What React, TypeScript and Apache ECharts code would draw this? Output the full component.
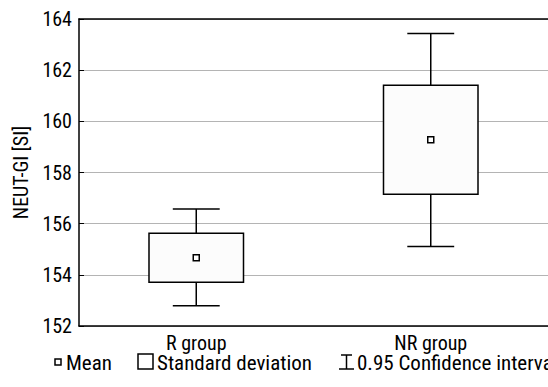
import React, { useEffect, useRef } from "react";
import * as echarts from "echarts";

const categories = ["R group", "NR group"];
const means = [154.67, 159.28];
const sdLow = [153.71, 157.15];
const sdHigh = [155.63, 161.41];
const ciLow = [152.79, 155.11];
const ciHigh = [156.57, 163.43];
const yTicks = { min: 152, max: 164, interval: 2 };
const legendLabels = ["Mean", "Standard deviation", "0.95 Confidence interval"];

const FONT = '"Roboto Condensed", "Liberation Sans Narrow", sans-serif';

export default function App() {
  const ref = useRef<HTMLDivElement>(null);
  useEffect(() => {
    document.body.style.margin = "0";
    const chart = echarts.init(ref.current!, null, { renderer: "svg" });
    const data = categories.map((c, i) => [i, ciLow[i], sdLow[i], means[i], sdHigh[i], ciHigh[i]]);
    const option: any = {
      animation: false,
      backgroundColor: "#ffffff",
      textStyle: { fontFamily: FONT },
      grid: { left: 79, top: 19, right: -7, bottom: 61, containLabel: false },
      xAxis: [
        {
          type: "category",
          data: categories,
          position: "bottom",
          axisLine: { lineStyle: { color: "#000", width: 1.5 } },
          axisTick: { inside: true, alignWithLabel: true, length: 5, lineStyle: { color: "#000" } },
          axisLabel: { color: "#000", fontSize: 20, lineHeight: 17, fontFamily: FONT, margin: 8 },
          splitLine: { show: false },
        },
        {
          type: "category",
          data: categories,
          position: "top",
          axisLine: { lineStyle: { color: "#000", width: 1.5 } },
          axisTick: { inside: true, alignWithLabel: true, length: 5, lineStyle: { color: "#000" } },
          axisLabel: { show: false },
          splitLine: { show: false },
        },
      ],
      yAxis: {
        type: "value",
        min: yTicks.min,
        max: yTicks.max,
        interval: yTicks.interval,
        name: "NEUT-GI [SI]",
        nameLocation: "middle",
        nameGap: 44,
        nameTextStyle: { color: "#000", fontSize: 20, fontFamily: FONT },
        axisLine: { show: true, lineStyle: { color: "#000", width: 1.5 } },
        axisTick: { show: true, inside: true, length: 5, lineStyle: { color: "#000" } },
        axisLabel: { color: "#000", fontSize: 20, fontFamily: FONT, margin: 7 },
        splitLine: { show: true, lineStyle: { color: "#b4b4b4", width: 1 } },
      },
      series: [
        {
          type: "custom",
          data,
          renderItem: (params: any, api: any) => {
            const xi = api.value(0);
            const band = api.size([1, 0])[0];
            const pLoCI = api.coord([xi, api.value(1)]);
            const pLoSD = api.coord([xi, api.value(2)]);
            const pMean = api.coord([xi, api.value(3)]);
            const pHiSD = api.coord([xi, api.value(4)]);
            const pHiCI = api.coord([xi, api.value(5)]);
            const cx = pMean[0];
            const boxW = band * 0.403;
            const capW = band * 0.2;
            const ls = { stroke: "#000", lineWidth: 1.5, fill: null };
            return {
              type: "group",
              children: [
                { type: "line", shape: { x1: cx, y1: pHiCI[1], x2: cx, y2: pLoCI[1] }, style: ls },
                { type: "line", shape: { x1: cx - capW / 2, y1: pHiCI[1], x2: cx + capW / 2, y2: pHiCI[1] }, style: ls },
                { type: "line", shape: { x1: cx - capW / 2, y1: pLoCI[1], x2: cx + capW / 2, y2: pLoCI[1] }, style: ls },
                {
                  type: "rect",
                  shape: { x: cx - boxW / 2, y: pHiSD[1], width: boxW, height: pLoSD[1] - pHiSD[1] },
                  style: { stroke: "#000", lineWidth: 1.5, fill: "#fcfcfc" },
                },
                {
                  type: "rect",
                  shape: { x: cx - 3, y: pMean[1] - 3, width: 6, height: 6 },
                  style: { stroke: "#000", lineWidth: 1.5, fill: "#fff" },
                },
              ],
            };
          },
        },
      ],
      graphic: [
        { type: "rect", shape: { x: 55, y: 359, width: 6, height: 6 }, style: { stroke: "#000", lineWidth: 1.5, fill: "#fff" } },
        { type: "text", x: 66, y: 363, style: { text: legendLabels[0], fontSize: 21, lineHeight: 17, fontFamily: FONT, fill: "#000", verticalAlign: "middle" } },
        { type: "rect", shape: { x: 138, y: 354, width: 15, height: 15 }, style: { stroke: "#000", lineWidth: 1.5, fill: "#fff" } },
        { type: "text", x: 157, y: 363, style: { text: legendLabels[1], fontSize: 21, lineHeight: 17, fontFamily: FONT, fill: "#000", verticalAlign: "middle" } },
        { type: "line", shape: { x1: 341, y1: 355, x2: 352, y2: 355 }, style: { stroke: "#000", lineWidth: 1.5 } },
        { type: "line", shape: { x1: 346.5, y1: 355, x2: 346.5, y2: 369 }, style: { stroke: "#000", lineWidth: 1.5 } },
        { type: "line", shape: { x1: 339, y1: 369, x2: 354, y2: 369 }, style: { stroke: "#000", lineWidth: 1.5 } },
        { type: "text", x: 357, y: 363, style: { text: legendLabels[2], fontSize: 21, lineHeight: 17, fontFamily: FONT, fill: "#000", verticalAlign: "middle" } },
      ],
    };
    chart.setOption(option);
    return () => chart.dispose();
  }, []);
  return <div ref={ref} style={{ width: 548, height: 387 }} />;
}
